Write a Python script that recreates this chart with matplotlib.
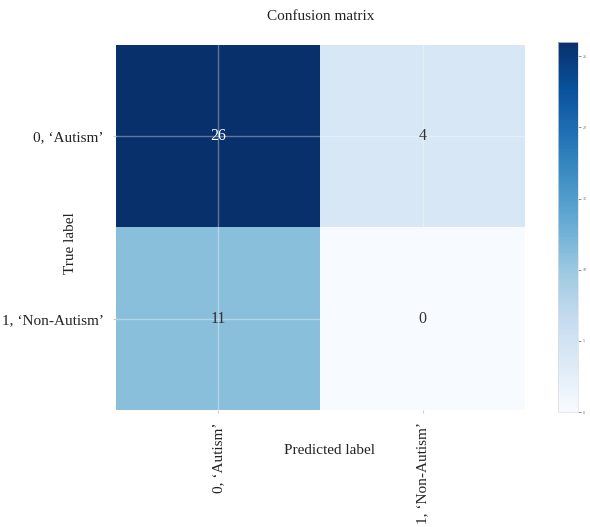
import numpy as np
import matplotlib
matplotlib.use("Agg")
import matplotlib.pyplot as plt

# Confusion matrix data
classes = ["0, \u2018Autism\u2019", "1, \u2018Non-Autism\u2019"]
xtick_labels = ["0, \u2018Autism\u2019", "1, \u2018Non-Autism\u2019"]
counts = [[26, 4],
          [11, 0]]
cbar_ticks = [0, 5, 10, 15, 20, 25]

plt.rcParams["font.family"] = ["Liberation Serif", "DejaVu Serif"]

cm = np.array(counts)
fig = plt.figure(figsize=(5.9, 5.27), dpi=100)
ax = fig.add_axes([116 / 590, 1 - 410 / 527, (525 - 116) / 590, (410 - 45) / 527])
cax = fig.add_axes([558 / 590, 1 - 412 / 527, 20 / 590, (412 - 42) / 527])

im = ax.imshow(cm, interpolation="nearest", cmap=plt.cm.Blues, aspect="auto",
               vmin=cm.min(), vmax=cm.max())
cb = fig.colorbar(im, cax=cax, ticks=cbar_ticks)
cb.ax.tick_params(labelsize=3, colors="#666666", length=2, width=0.5, pad=1.5)
cb.outline.set_edgecolor("#dddddd")
cb.outline.set_linewidth(0.5)

ax.set_xticks(range(len(xtick_labels)))
ax.set_xticklabels(xtick_labels, rotation=90, fontsize=11, color="#222222")
ax.set_yticks(range(len(classes)))
ax.set_yticklabels(classes, fontsize=11, color="#222222")
ax.tick_params(length=2, color="#cccccc", pad=7)
ax.grid(True, color="white", alpha=0.35, linewidth=1)
for s in ax.spines.values():
    s.set_visible(False)

thresh = cm.max() / 2.0
for i in range(cm.shape[0]):
    for j in range(cm.shape[1]):
        ax.text(j, i, format(cm[i, j], "d"), ha="center", va="center", fontsize=11.5,
                color="white" if cm[i, j] > thresh else "#333333")

ax.set_title("Confusion matrix", fontsize=11, pad=18, color="#222222")
fig.text(70 / 590, 1 - 243 / 527, "True label", rotation=90, ha="center", va="center",
         fontsize=11, color="#222222")
fig.text(330 / 590, 1 - 451 / 527, "Predicted label", ha="center", va="center",
         fontsize=11, color="#222222")

fig.savefig("out.png", dpi=100)
